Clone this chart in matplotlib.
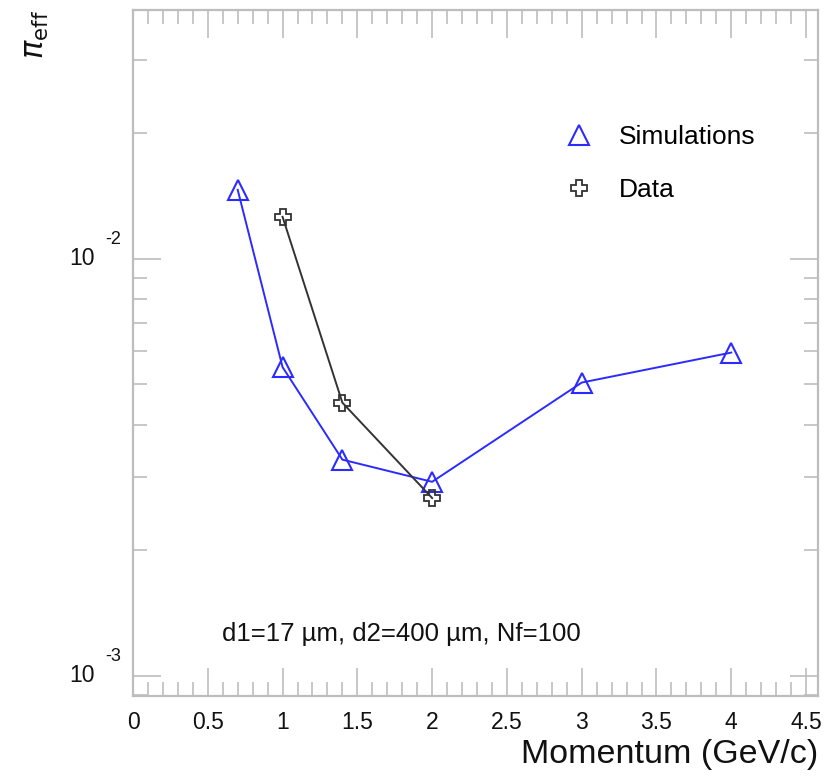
import matplotlib
matplotlib.use("Agg")
import matplotlib.pyplot as plt
from matplotlib.lines import Line2D
from matplotlib.ticker import FixedLocator, NullFormatter
from matplotlib.transforms import offset_copy

plt.rcParams['font.family'] = ['Liberation Sans', 'DejaVu Sans']

# values
sim_p = [0.7, 1.0, 1.4, 2.0, 3.0, 4.0]
sim_eff = [0.01464, 0.00550, 0.00330, 0.00292, 0.00505, 0.00596]
data_p = [1.0, 1.4, 2.0]
data_eff = [0.01261, 0.00452, 0.00267]
x_ticks = [0, 0.5, 1, 1.5, 2, 2.5, 3, 3.5, 4, 4.5]
x_labels = ['0', '0.5', '1', '1.5', '2', '2.5', '3', '3.5', '4', '4.5']
y_major = [1e-3, 1e-2]
y_exp = ['-3', '-2']

blue = '#2b2bff'
dark = '#333333'
frame = '#bdbdbd'

fig = plt.figure(figsize=(8.36, 7.77), dpi=100)
ax = fig.add_axes([133/836, 1 - 696/777, 685/836, 686/777])

ax.plot(sim_p, sim_eff, color=blue, lw=1.4, marker='^', ms=14,
        mfc='none', mec=blue, mew=1.5)
ax.plot(data_p, data_eff, color=dark, lw=1.4, marker='P', ms=12,
        mfc='none', mec=dark, mew=1.3)

ax.set_yscale('log')
ax.set_xlim(0, 4.58)
ax.set_ylim(0.000895, 0.0395)

# frame and ticks, ROOT-like
for s in ax.spines.values():
    s.set_color(frame)
    s.set_linewidth(1.6)
ax.set_xticks(x_ticks)
ax.set_xticklabels(x_labels, fontsize=16.5, color='#111111')
ax.xaxis.set_minor_locator(FixedLocator([i / 10 for i in range(46)]))
minor_y = [m * 10.0 ** e for e in (-4, -3, -2) for m in range(2, 10)]
ax.yaxis.set_major_locator(FixedLocator(y_major))
ax.yaxis.set_minor_locator(FixedLocator(minor_y))
ax.yaxis.set_major_formatter(NullFormatter())
ax.yaxis.set_minor_formatter(NullFormatter())
ax.tick_params(which='both', direction='in', top=True, right=True,
               color=frame, width=1.2)
ax.tick_params(which='major', length=20)
ax.tick_params(which='minor', length=10)
ax.tick_params(axis='x', which='major', pad=11)

# y tick labels as "10" with raised exponent
tr = ax.get_yaxis_transform()
for v, e in zip(y_major, y_exp):
    ax.text(-0.0555, v, '10', transform=tr, ha='right', va='center',
            fontsize=16.5, color='#111111')
    ax.text(-0.041, v, e, ha='left', va='center', fontsize=13, color='#111111',
            transform=offset_copy(tr, fig=fig, x=0, y=19, units='dots'))

ax.set_xlabel('Momentum (GeV/c)', fontsize=24.5, color='#111111')
ax.xaxis.set_label_coords(1.0, -0.062)
ax.xaxis.label.set_horizontalalignment('right')

fig.text(36/836, 1 - 10/777, r'$\pi_{\mathrm{eff}}$', rotation=90,
         ha='center', va='top', fontsize=22, color='#111111')

ax.text((222 - 133) / 685, (696 - 634) / 686,
        'd1=17 \u00b5m, d2=400 \u00b5m, Nf=100', fontsize=18.5,
        ha='left', va='center', color='#111111', transform=ax.transAxes)

handles = [Line2D([], [], ls='none', marker='^', ms=14, mfc='none', mec=blue, mew=1.5),
           Line2D([], [], ls='none', marker='P', ms=12, mfc='none', mec=dark, mew=1.3)]
fig.legend(handles, ['Simulations', 'Data'], loc='upper left',
           bbox_to_anchor=(566/836, 1 - 125/777), frameon=False, fontsize=19,
           handlelength=0.95, handletextpad=1.05, labelspacing=1.1,
           borderpad=0, borderaxespad=0)

fig.savefig('out.png', dpi=100)
